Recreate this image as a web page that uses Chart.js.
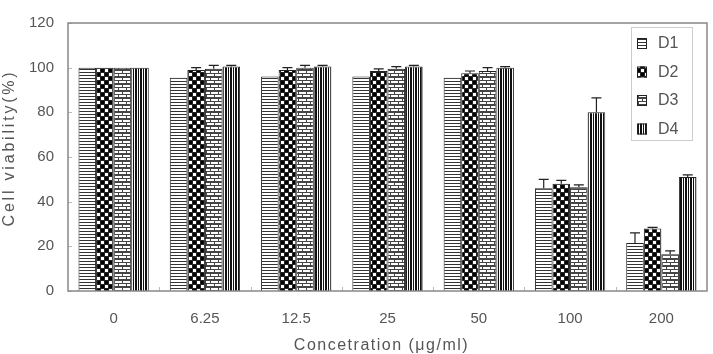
<!DOCTYPE html>
<html>
<head>
<meta charset="utf-8">
<script src="https://cdn.jsdelivr.net/npm/chart.js@4"></script>
<style>
  html, body { margin: 0; padding: 0; background: #fff; }
  #wrap { position: relative; width: 713px; height: 354px; }
</style>
</head>
<body>
<div id="wrap"><canvas id="viabilityChart" width="713" height="354"></canvas></div>
<script>
// categorias (concentração) e valores
const concentrations = ['0', '6.25', '12.5', '25', '50', '100', '200'];
const d1 = [100, 95.5, 96, 96, 95.5, 46, 21.5];
const d2 = [100, 99, 99, 98.5, 97.5, 48, 28];
const d3 = [100, 99.5, 100, 99.5, 98.5, 46.5, 16.5];
const d4 = [100, 100.5, 100.5, 100.5, 100, 80, 51];
const d1Err = [0, 0, 0, 0, 0, 4, 4.5];
const d2Err = [0, 1, 1, 1, 1, 1.5, 0.5];
const d3Err = [0, 1.5, 1, 1, 1.5, 1, 1.5];
const d4Err = [0, 0.5, 0.5, 0.5, 0.5, 6.5, 1];
const yTicks = [0, 20, 40, 60, 80, 100, 120];

const ctx = document.getElementById('viabilityChart').getContext('2d');
const FAMILY = '"Liberation Sans", Arial, sans-serif';

// padrões de preenchimento (preto e branco)
function makePattern(w, h, draw) {
    const c = document.createElement('canvas');
    c.width = w; c.height = h;
    const p = c.getContext('2d');
    p.fillStyle = '#fff';
    p.fillRect(0, 0, w, h);
    draw(p);
    return ctx.createPattern(c, 'repeat');
}
const patHoriz = makePattern(4, 3, p => {
    p.fillStyle = '#333';
    p.fillRect(0, 0, 4, 1);
});
const patCheck = makePattern(8, 8, p => {
    p.fillStyle = '#222';
    p.fillRect(0, 0, 8, 1);
    p.fillRect(0, 4, 8, 1);
    p.fillRect(0, 0, 1, 8);
    p.fillRect(4, 0, 1, 8);
    p.fillStyle = '#000';
    p.fillRect(1, 1, 3, 3);
    p.fillRect(5, 5, 3, 3);
});
const patBrick = makePattern(8, 7, p => {
    p.fillStyle = '#444';
    p.fillRect(0, 0, 8, 1);
    p.fillRect(0, 3, 8, 1);
    p.fillRect(0, 6, 8, 1);
    p.fillRect(2, 0, 1, 3);
    p.fillRect(6, 3, 1, 3);
});
const patVert = makePattern(5, 4, p => {
    p.fillStyle = '#111';
    p.fillRect(0, 0, 2, 4);
    p.fillRect(3, 0, 1, 4);
});

const errors = [d1Err, d2Err, d3Err, d4Err];

// barras de erro, posicionadas com as escalas do gráfico
const errorBars = {
    id: 'errorBars',
    afterDatasetsDraw(chart) {
        const c = chart.ctx;
        const yScale = chart.scales.y;
        c.save();
        c.strokeStyle = '#222';
        c.lineWidth = 1.2;
        chart.data.datasets.forEach((ds, i) => {
            chart.getDatasetMeta(i).data.forEach((bar, j) => {
                const e = errors[i][j];
                if (!e) return;
                const yTop = yScale.getPixelForValue(ds.data[j] + e);
                const yBase = yScale.getPixelForValue(ds.data[j]);
                c.beginPath();
                c.moveTo(bar.x, yBase);
                c.lineTo(bar.x, yTop);
                c.moveTo(bar.x - 5, yTop);
                c.lineTo(bar.x + 5, yTop);
                c.stroke();
            });
        });
        c.restore();
    }
};

// moldura, marcas internas dos eixos, títulos espaçados e legenda
const frameLegend = {
    id: 'frameLegend',
    afterDraw(chart) {
        const c = chart.ctx;
        const a = chart.chartArea;
        const xs = chart.scales.x, ys = chart.scales.y;
        c.save();

        // marcas pequenas para dentro
        c.strokeStyle = '#bbb';
        c.lineWidth = 1;
        c.beginPath();
        yTicks.forEach(v => {
            const y = Math.round(ys.getPixelForValue(v)) + 0.5;
            c.moveTo(a.left, y); c.lineTo(a.left + 4, y);
        });
        for (let i = 1; i < concentrations.length; i++) {
            const x = Math.round((xs.getPixelForValue(i - 1) + xs.getPixelForValue(i)) / 2) + 0.5;
            c.moveTo(x, a.bottom); c.lineTo(x, a.bottom - 4);
        }
        c.stroke();

        c.strokeStyle = '#888';
        c.lineWidth = 1.5;
        c.strokeRect(a.left, a.top, a.right - a.left, a.bottom - a.top);

        // títulos dos eixos
        c.fillStyle = '#555';
        c.textAlign = 'center';
        c.textBaseline = 'middle';
        c.font = '16px ' + FAMILY;
        c.letterSpacing = '1.5px';
        c.fillText('Concetration (μg/ml)', (a.left + a.right) / 2 - 6, 346);
        c.save();
        c.translate(10, 148);
        c.rotate(-Math.PI / 2);
        c.letterSpacing = '2.8px';
        c.fillText('Cell viability(%)', 0, 0);
        c.restore();
        c.letterSpacing = '0px';

        // legenda
        const lx = 631, ly = 27, lw = 61, lh = 113;
        c.fillStyle = '#fff';
        c.fillRect(lx, ly, lw, lh);
        c.strokeStyle = '#ccc';
        c.lineWidth = 1;
        c.strokeRect(lx + 0.5, ly + 0.5, lw, lh);
        c.font = '16px ' + FAMILY;
        c.textAlign = 'left';
        chart.data.datasets.forEach((ds, i) => {
            const y = 43 + i * 28.5;
            c.fillStyle = ds.backgroundColor;
            c.fillRect(637, y - 5, 10, 11);
            c.strokeStyle = '#222';
            c.strokeRect(637.5, y - 4.5, 9, 10);
            c.fillStyle = '#555';
            c.fillText(ds.label, 658, y + 1);
        });
        c.restore();
    }
};

new Chart(ctx, {
    type: 'bar',
    data: {
        labels: concentrations,
        datasets: [
            { label: 'D1', data: d1, backgroundColor: patHoriz },
            { label: 'D2', data: d2, backgroundColor: patCheck },
            { label: 'D3', data: d3, backgroundColor: patBrick },
            { label: 'D4', data: d4, backgroundColor: patVert },
        ].map(ds => Object.assign(ds, {
            borderColor: '#222',
            borderWidth: 1,
            categoryPercentage: 0.77,
            barPercentage: 1.0,
        })),
    },
    options: {
        responsive: false,
        animation: false,
        devicePixelRatio: 1,
        layout: { padding: { left: 0, right: 6, top: 15, bottom: 0 } },
        plugins: {
            legend: { display: false },
            tooltip: { enabled: false },
        },
        scales: {
            y: {
                min: 0,
                max: 120,
                afterBuildTicks: axis => { axis.ticks = yTicks.map(v => ({ value: v })); },
                afterFit: axis => { axis.width = 68; },
                grid: { display: false, drawTicks: false },
                border: { display: false },
                ticks: { color: '#555', font: { family: FAMILY, size: 15 }, padding: 14, autoSkip: false },
            },
            x: {
                afterFit: axis => { axis.height = 63; },
                grid: { display: false, drawTicks: false },
                border: { display: false },
                ticks: { color: '#555', font: { family: FAMILY, size: 15 }, padding: 19 },
            },
        },
    },
    plugins: [errorBars, frameLegend],
});
</script>
</body>
</html>
